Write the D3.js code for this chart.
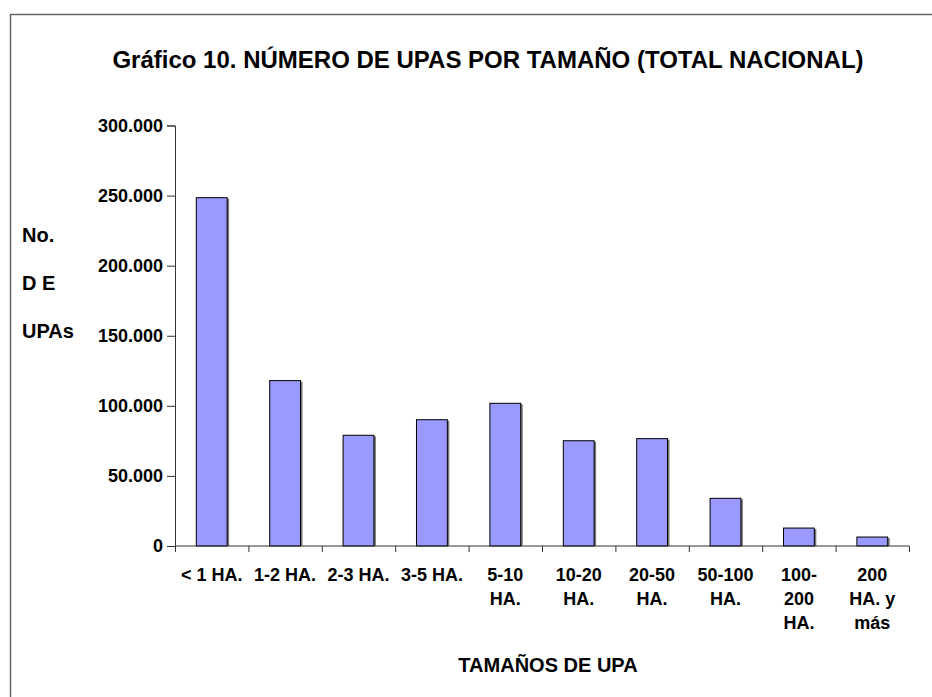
<!DOCTYPE html>
<head>
  <meta charset="utf-8">
  <title>Gráfico 10</title>
  <style>
    body { margin: 0; background: #fff; }
    text { font-family: "Liberation Sans", Arial, sans-serif; font-weight: bold; fill: #000; }
    .axis path, .axis line { stroke: #333; }
    .bar { fill: #9999ff; stroke: #000; stroke-width: 1px; }
    .shadow { fill: #777; }
  </style>
</head>
<body>
  <div id="chart"></div>
  <script src="https://cdn.jsdelivr.net/npm/d3@7"></script>
  <script>
    // categorias y valores
    var categorias = ["< 1 HA.", "1-2 HA.", "2-3 HA.", "3-5 HA.", "5-10 HA.", "10-20 HA.",
                      "20-50 HA.", "50-100 HA.", "100-200 HA.", "200 HA. y más"];
    // etiquetas partidas en lineas como en el original
    var etiquetas = [["< 1 HA."], ["1-2 HA."], ["2-3 HA."], ["3-5 HA."], ["5-10", "HA."],
                     ["10-20", "HA."], ["20-50", "HA."], ["50-100", "HA."],
                     ["100-", "200", "HA."], ["200", "HA. y", "más"]];
    var upas = [248500, 118000, 79000, 90100, 101800, 75100, 76600, 34000, 12800, 6400];
    var yTicks = [0, 50000, 100000, 150000, 200000, 250000, 300000];
    var yTitulo = ["No.", "D E", "UPAs"];

    var width = 932,
        height = 697;

    var svg = d3.select("#chart")
        .append("svg")
        .attr("width", width)
        .attr("height", height);

    // marco
    svg.append("rect")
        .attr("x", 10.5)
        .attr("y", 14.5)
        .attr("width", 960)
        .attr("height", 720)
        .attr("fill", "none")
        .attr("stroke", "#666")
        .attr("stroke-width", 1.5);

    var pLeft = 175, pRight = 909, pTop = 125.5, pBottom = 546;

    var x = d3.scaleBand()
        .domain(categorias)
        .range([pLeft, pRight])
        .paddingInner(0.58)
        .paddingOuter(0.29);

    var xTicks = d3.scaleLinear()
        .domain([0, categorias.length])
        .range([pLeft, pRight]);

    var y = d3.scaleLinear()
        .domain([0, 300000])
        .range([pBottom, pTop]);

    var es = d3.formatLocale({decimal: ",", thousands: ".", grouping: [3], currency: ["", ""]});
    var fmt = es.format(",");

    // titulo
    svg.append("text")
        .attr("x", 488)
        .attr("y", 68)
        .attr("text-anchor", "middle")
        .style("font-size", "24px")
        .text("Gráfico 10. NÚMERO DE UPAS POR TAMAÑO (TOTAL NACIONAL)");

    // sombra y barras
    svg.selectAll(".shadow")
        .data(upas)
        .enter().append("rect")
        .attr("class", "shadow")
        .attr("x", function(d, i) { return x(categorias[i]) + 2; })
        .attr("y", function(d) { return y(d) + 1; })
        .attr("width", x.bandwidth())
        .attr("height", function(d) { return pBottom - y(d) - 1; });

    svg.selectAll(".bar")
        .data(upas)
        .enter().append("rect")
        .attr("class", "bar")
        .attr("x", function(d, i) { return x(categorias[i]); })
        .attr("y", function(d) { return y(d); })
        .attr("width", x.bandwidth())
        .attr("height", function(d) { return pBottom - y(d); });

    // eje y
    var gy = svg.append("g")
        .attr("class", "axis")
        .attr("transform", "translate(" + pLeft + ",0)")
        .call(d3.axisLeft(y).tickValues(yTicks).tickSize(8).tickPadding(4).tickFormat(fmt));
    gy.selectAll("text")
        .style("font-size", "18px")
        .style("font-family", "'Liberation Sans', Arial, sans-serif")
        .attr("fill", "#000");

    // eje x: marcas entre categorias
    var gx = svg.append("g")
        .attr("class", "axis")
        .attr("transform", "translate(0," + pBottom + ")")
        .call(d3.axisBottom(xTicks).ticks(categorias.length).tickSize(6).tickFormat(""));
    gx.select(".domain").attr("d", "M" + pLeft + ",0H" + pRight);

    var lab = svg.selectAll(".xlab")
        .data(etiquetas)
        .enter().append("text")
        .attr("class", "xlab")
        .attr("text-anchor", "middle")
        .style("font-size", "18px")
        .attr("transform", function(d, i) {
          return "translate(" + (x(categorias[i]) + x.bandwidth() / 2) + ",581)";
        });
    lab.selectAll("tspan")
        .data(function(d) { return d; })
        .enter().append("tspan")
        .attr("x", 0)
        .attr("y", function(d, j) { return j * 24; })
        .text(function(d) { return d; });

    // titulos de ejes
    svg.append("text")
        .attr("x", 548)
        .attr("y", 672)
        .attr("text-anchor", "middle")
        .style("font-size", "20px")
        .text("TAMAÑOS DE UPA");

    svg.selectAll(".ytit")
        .data(yTitulo)
        .enter().append("text")
        .attr("class", "ytit")
        .attr("x", 22)
        .attr("y", function(d, i) { return 242 + i * 48; })
        .style("font-size", "20px")
        .text(function(d) { return d; });
  </script>
</body>
